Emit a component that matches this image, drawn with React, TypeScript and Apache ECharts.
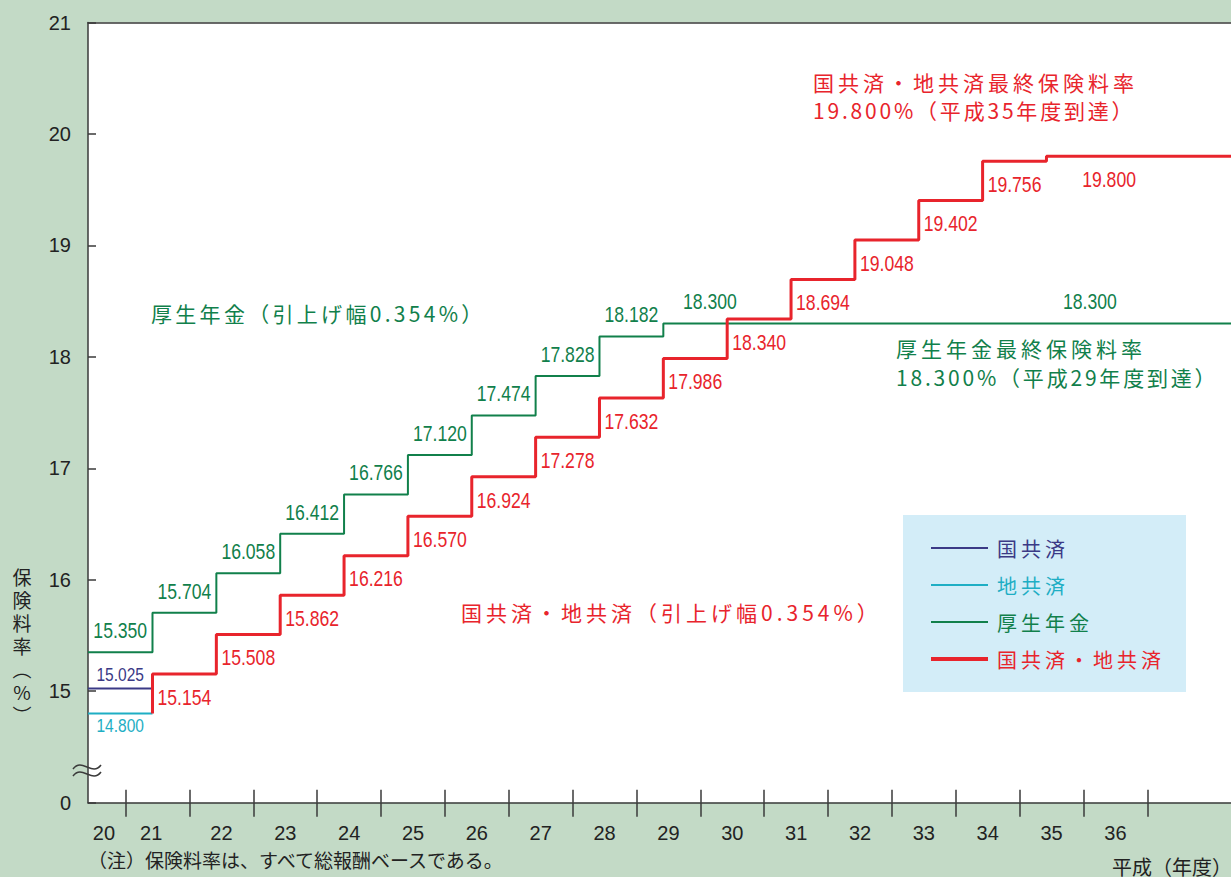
import React, { useEffect, useRef } from 'react';
import * as echarts from 'echarts';

// 厚生年金: FY20 (start), then FY21..FY29 (raised each September)
const kouseiRates = [15.35, 15.704, 16.058, 16.412, 16.766, 17.12, 17.474, 17.828, 18.182, 18.3];
// 国共済・地共済: FY21..FY35
const kyosaiRates = [15.154, 15.508, 15.862, 16.216, 16.57, 16.924, 17.278, 17.632, 17.986, 18.34, 18.694, 19.048, 19.402, 19.756, 19.8];
const kokkaRate = 15.025; // 国共済 before unification
const chihoRate = 14.8; // 地共済 before unification
const yearLabels = ['20', '21', '22', '23', '24', '25', '26', '27', '28', '29', '30', '31', '32', '33', '34', '35', '36'];
const tickYears = [21, 22, 23, 24, 25, 26, 27, 28, 29, 30, 31, 32, 33, 34, 35, 36, 37];
const legendNames = ['国共済', '地共済', '厚生年金', '国共済・地共済'];
const kouseiTailLabelX = [30.15, 36.1];
const kyosaiTailLabelX = [36.4];

const X_MIN = 20.41;
const X_MAX = 38.31;
const STEP = 0.42; // September within the fiscal year

const BG = '#c3dac6';
const GREEN = '#11804b';
const RED = '#e8242c';
const NAVY = '#3b3a86';
const CYAN = '#1eaec4';
const AXIS = '#3a3a3a';
const NUM_FONT = '"Liberation Sans", Arial, sans-serif';
const JP_FONT = '"Noto Sans CJK JP", "Noto Sans", sans-serif';

const annotations = [
  { text: '厚生年金（引上げ幅0.354%）', x: 151, y: 313, color: GREEN, sp: 3.3 },
  { text: '国共済・地共済（引上げ幅0.354%）', x: 461, y: 612, color: RED, sp: 4 },
  { text: '国共済・地共済最終保険料率', x: 813, y: 82, color: RED, sp: 4 },
  { text: '19.800%（平成35年度到達）', x: 813, y: 110, color: RED, sp: 2.8 },
  { text: '厚生年金最終保険料率', x: 896, y: 348, color: GREEN, sp: 4 },
  { text: '18.300%（平成29年度到達）', x: 896, y: 377, color: GREEN, sp: 2.8 },
];

// legend line icons drawn in a 57x14 box (tiny corner squares keep the box size)
const lineIcon = (w: number) =>
  `path://M0,0h0.1v0.1h-0.1zM0,${7 - w / 2}h57v${w}h-57zM56.9,13.9h0.1v0.1h-0.1z`;

export default function App() {
  const ref = useRef<HTMLDivElement>(null);

  useEffect(() => {
    document.body.style.margin = '0';
    if (!ref.current) return;
    const chart = echarts.init(ref.current, null, { renderer: 'svg' });

    const kouseiData: number[][] = [[X_MIN, kouseiRates[0]]];
    for (let i = 1; i < kouseiRates.length; i++) kouseiData.push([20 + i + STEP, kouseiRates[i]]);
    kouseiData.push([X_MAX, kouseiRates[kouseiRates.length - 1]]);

    const kyosaiData: number[][] = [[21 + STEP, chihoRate]];
    for (let i = 0; i < kyosaiRates.length; i++) kyosaiData.push([21 + i + STEP, kyosaiRates[i]]);
    kyosaiData.push([X_MAX, kyosaiRates[kyosaiRates.length - 1]]);

    const kouseiLabels: number[][] = [[(X_MIN + 21 + STEP) / 2, kouseiRates[0]]];
    for (let i = 1; i < kouseiRates.length - 1; i++) kouseiLabels.push([20 + i + STEP + 0.5, kouseiRates[i]]);
    kouseiTailLabelX.forEach((x) => kouseiLabels.push([x, kouseiRates[kouseiRates.length - 1]]));

    const kyosaiLabels: number[][] = [];
    for (let i = 0; i < kyosaiRates.length - 1; i++) kyosaiLabels.push([21 + i + STEP + 0.5, kyosaiRates[i]]);
    kyosaiTailLabelX.forEach((x) => kyosaiLabels.push([x, kyosaiRates[kyosaiRates.length - 1]]));

    const labelPositions = yearLabels.map((_, i) => (i === 0 ? 20.66 : i === 1 ? 21.4 : 20 + i + 0.5));

    const labelSeries = (name: string, data: number[][], color: string, dy: number, size: number, sx: number) => ({
      name,
      type: 'custom',
      data,
      silent: true,
      z: 5,
      encode: { x: 0, y: 1 },
      renderItem: (_params: any, api: any) => {
        const v = api.value(1);
        const pt = api.coord([api.value(0), v]);
        return {
          type: 'text',
          x: pt[0],
          y: pt[1] + dy,
          scaleX: sx,
          style: {
            text: Number(v).toFixed(3),
            fill: color,
            fontSize: size,
            fontFamily: NUM_FONT,
            textAlign: 'center',
            textVerticalAlign: 'middle',
          },
        };
      },
    });

    const xBase = { type: 'value', min: X_MIN, max: X_MAX, splitLine: { show: false } };

    const option: any = {
      animation: false,
      backgroundColor: BG,
      grid: {
        left: 88,
        right: 0,
        top: 22.5,
        bottom: 74.3,
        show: true,
        backgroundColor: '#ffffff',
        borderWidth: 0,
      },
      xAxis: [
        {
          ...xBase,
          position: 'bottom',
          axisLine: { show: true, lineStyle: { color: AXIS, width: 1.5 } },
          axisTick: { show: true, inside: false, length: 14, customValues: tickYears, lineStyle: { color: AXIS, width: 1.5 } },
          axisLabel: {
            show: true,
            customValues: labelPositions,
            formatter: (v: number) => String(Math.floor(v)),
            margin: 20,
            fontSize: 20,
            color: '#222',
            fontFamily: NUM_FONT,
          },
        },
        {
          ...xBase,
          position: 'bottom',
          axisLine: { show: false },
          axisTick: { show: true, inside: true, length: 13, customValues: tickYears, lineStyle: { color: AXIS, width: 1.5 } },
          axisLabel: { show: false },
        },
        {
          ...xBase,
          position: 'top',
          axisLine: { show: true, lineStyle: { color: AXIS, width: 1.5 } },
          axisTick: { show: false },
          axisLabel: { show: false },
        },
      ],
      yAxis: {
        type: 'value',
        min: 14,
        max: 21,
        interval: 1,
        splitLine: { show: false },
        axisLine: { show: true, lineStyle: { color: AXIS, width: 1.5 } },
        axisTick: { show: true, inside: true, length: 8, lineStyle: { color: AXIS, width: 1.5 } },
        axisLabel: {
          margin: 17,
          fontSize: 20,
          color: '#222',
          fontFamily: NUM_FONT,
          formatter: (v: number) => (v === 14 ? '0' : String(v)),
        },
      },
      legend: {
        orient: 'vertical',
        left: 903,
        top: 515,
        padding: [23, 49, 23, 28],
        itemGap: 17,
        itemWidth: 57,
        itemHeight: 14,
        backgroundColor: '#d3edf8',
        borderWidth: 0,
        selectedMode: false,
        itemStyle: { borderWidth: 0 },
        textStyle: { fontSize: 20, lineHeight: 20, fontFamily: JP_FONT, padding: [0, 0, 0, 4] },
        data: [
          { name: legendNames[0], icon: lineIcon(2), textStyle: { color: NAVY } },
          { name: legendNames[1], icon: lineIcon(2), textStyle: { color: CYAN } },
          { name: legendNames[2], icon: lineIcon(2), textStyle: { color: GREEN } },
          { name: legendNames[3], icon: lineIcon(4), textStyle: { color: RED } },
        ],
      },
      series: [
        {
          name: legendNames[0],
          type: 'line',
          data: [[X_MIN, kokkaRate], [21 + STEP, kokkaRate]],
          symbol: 'none',
          lineStyle: { color: NAVY, width: 2 },
          itemStyle: { color: NAVY },
          z: 2,
        },
        {
          name: legendNames[1],
          type: 'line',
          data: [[X_MIN, chihoRate], [21 + STEP, chihoRate]],
          symbol: 'none',
          lineStyle: { color: CYAN, width: 2 },
          itemStyle: { color: CYAN },
          z: 2,
        },
        {
          name: legendNames[2],
          type: 'line',
          step: 'end',
          data: kouseiData,
          symbol: 'none',
          lineStyle: { color: GREEN, width: 2 },
          itemStyle: { color: GREEN },
          z: 3,
        },
        {
          name: legendNames[3],
          type: 'line',
          step: 'end',
          data: kyosaiData,
          symbol: 'none',
          lineStyle: { color: RED, width: 3 },
          itemStyle: { color: RED },
          z: 4,
        },
        labelSeries('lbl-kousei', kouseiLabels, GREEN, -22, 22, 0.8),
        labelSeries('lbl-kyosai', kyosaiLabels, RED, 23, 22, 0.8),
        labelSeries('lbl-kokka', [[(X_MIN + 21 + STEP) / 2, kokkaRate]], NAVY, -13, 18.5, 0.84),
        labelSeries('lbl-chiho', [[(X_MIN + 21 + STEP) / 2, chihoRate]], CYAN, 13, 18.5, 0.84),
      ],
      graphic: [
        ...annotations.map((a) => ({
          type: 'text',
          x: a.x,
          y: a.y,
          silent: true,
          style: {
            text: a.text,
            fill: a.color,
            fontSize: 21,
            fontFamily: JP_FONT,
            textAlign: 'left',
            textVerticalAlign: 'middle',
          },
        })),
        {
          type: 'text',
          x: 22,
          y: 565,
          silent: true,
          style: {
            text: '保\n険\n料\n率\n︵\n%\n︶',
            fill: '#222',
            fontSize: 19,
            lineHeight: 23,
            fontFamily: JP_FONT,
            textAlign: 'center',
            textVerticalAlign: 'top',
          },
        },
        {
          type: 'text',
          x: 88,
          y: 859,
          silent: true,
          style: {
            text: '（注）保険料率は、すべて総報酬ベースである。',
            fill: '#222',
            fontSize: 19,
            fontFamily: JP_FONT,
            textAlign: 'left',
            textVerticalAlign: 'middle',
          },
        },
        {
          type: 'text',
          x: 1112,
          y: 866,
          silent: true,
          style: {
            text: '平成（年度）',
            fill: '#222',
            fontSize: 20,
            fontFamily: JP_FONT,
            textAlign: 'left',
            textVerticalAlign: 'middle',
          },
        },
        {
          type: 'bezierCurve',
          silent: true,
          z: 10,
          shape: { x1: 73, y1: 769, x2: 101, y2: 765, cpx1: 82, cpy1: 757, cpx2: 92, cpy2: 777 },
          style: { stroke: AXIS, lineWidth: 1.5, fill: null },
        },
        {
          type: 'bezierCurve',
          silent: true,
          z: 10,
          shape: { x1: 73, y1: 776, x2: 101, y2: 772, cpx1: 82, cpy1: 764, cpx2: 92, cpy2: 784 },
          style: { stroke: AXIS, lineWidth: 1.5, fill: null },
        },
      ],
    };

    chart.setOption(option);

    const spacing = new Map<string, number>();
    annotations.forEach((a) => spacing.set(a.text, a.sp));
    legendNames.forEach((n) => spacing.set(n, 4));
    const applySpacing = () => {
      if (!ref.current) return;
      ref.current.querySelectorAll('text').forEach((t) => {
        const s = spacing.get((t.textContent || '').trim());
        if (s !== undefined) t.setAttribute('letter-spacing', String(s));
      });
    };
    applySpacing();
    chart.on('finished', applySpacing);

    return () => {
      chart.dispose();
    };
  }, []);

  return <div ref={ref} style={{ width: 1231, height: 877 }} />;
}
